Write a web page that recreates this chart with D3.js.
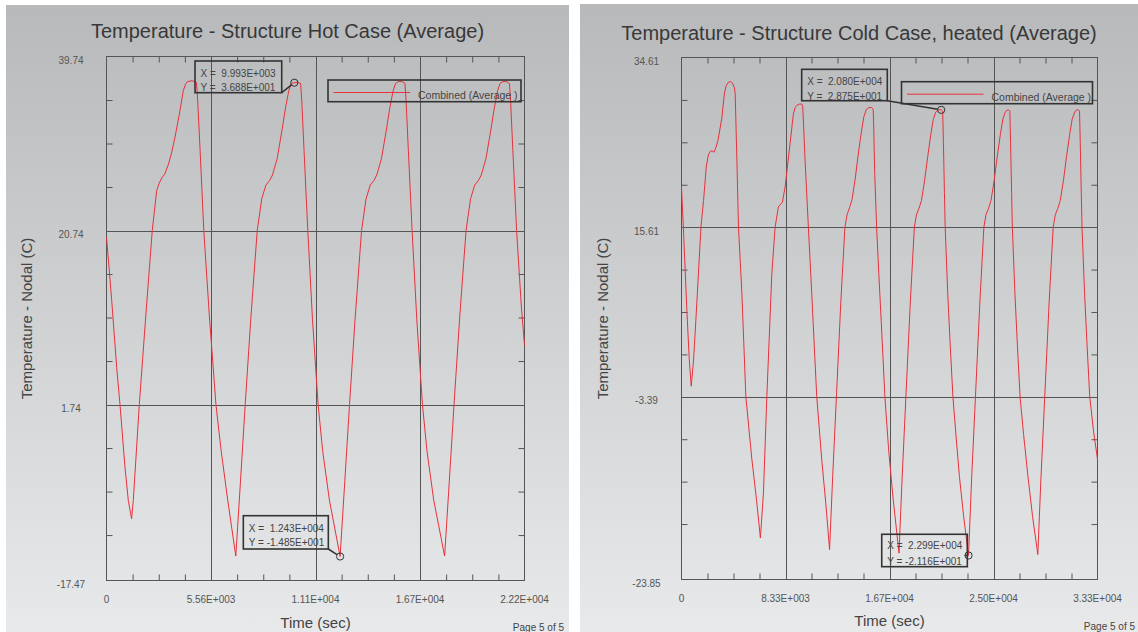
<!DOCTYPE html>
<html>
<head>
<meta charset="utf-8">
<script src="https://cdn.jsdelivr.net/npm/d3@7"></script>
<style>
  html, body { margin: 0; padding: 0; background: #ffffff; }
  svg { display: block; font-family: "Liberation Sans", Arial, sans-serif; }
</style>
</head>
<body>
<svg id="chart" width="1138" height="632"></svg>
<script>
// ---- Hot case: time (s) and average nodal temperature (C) ----
const hotTime = [
  0, 140, 277, 542, 718, 984, 1160, 1335, 1425, 1745, 2085, 2435, 2670, 2800, 2950, 3100,
  3300, 3450, 3642, 3908, 4085, 4200, 4300, 4550, 4790, 4850, 4980, 5177, 5470, 5823, 6100,
  6450, 6880,
  7130, 7380, 7680, 8020, 8260, 8480, 8680, 8830, 9080, 9330, 9530, 9700, 9830, 9993, 10180,
  10330, 10390, 10510, 10710, 10960, 11260, 11500, 11860, 12430,
  12680, 12930, 13230, 13570, 13810, 14030, 14230, 14380, 14630, 14880, 15080, 15250, 15380,
  15530, 15730, 15880, 15940, 16060, 16260, 16510, 16810, 17050, 17410, 17990,
  18240, 18490, 18790, 19130, 19370, 19590, 19790, 19940, 20190, 20440, 20640, 20810, 20940,
  21090, 21290, 21440, 21500, 21620, 21820, 22070, 22240
];
const hotTemp = [
  20.0, 16.6, 13.1, 5.8, 1.74, -5.1, -8.74, -10.74, -8.74, 1.74, 11.3, 20.74, 25.1, 25.9, 26.5, 26.9,
  28.0, 29.1, 30.9, 33.8, 36.0, 36.7, 37.0, 37.1, 36.9, 35.0, 29.5, 20.74, 11.5, 1.74, -3.3,
  -8.7, -14.8,
  -6.6, 1.74, 11.2, 20.74, 24.2, 25.7, 26.2, 26.8, 28.6, 31.6, 34.2, 36.0, 36.8, 36.88, 36.9,
  36.8, 34.9, 29.5, 20.74, 11.0, 1.74, -3.3, -8.7, -14.85,
  -6.6, 1.74, 11.2, 20.74, 24.2, 25.7, 26.2, 26.8, 28.6, 31.6, 34.2, 36.0, 36.8,
  37.0, 37.0, 36.8, 34.9, 29.5, 20.74, 11.0, 1.74, -3.3, -8.7, -14.8,
  -6.6, 1.74, 11.2, 20.74, 24.2, 25.7, 26.2, 26.8, 28.6, 31.6, 34.2, 36.0, 36.8,
  37.0, 37.0, 36.8, 34.9, 29.5, 20.74, 12.5, 8.2
];

// ---- Cold case (heated): time (s) and average nodal temperature (C) ----
const coldTime = [
  0, 170, 440, 623, 780, 967, 1183, 1559, 1767, 1982, 2150, 2300, 2450, 2600, 2750, 2918,
  3238, 3420, 3560, 3765, 3950, 4085, 4245, 4300, 4437, 4565, 4836, 5156, 5636, 6000, 6320,
  6563, 6835, 7235, 7498, 7762, 8082, 8298, 8697, 8961, 9100, 9233, 9450, 9633, 9713, 9780,
  9897, 10163, 10432, 10832, 11232, 11550, 11860,
  12110, 12420, 12760, 13090, 13260, 13460, 13660, 13910, 14160, 14410, 14610, 14810, 15010,
  15240, 15357, 15400, 15480, 15628, 15800, 16000, 16292, 16600, 16950, 17420,
  17670, 17980, 18320, 18650, 18820, 19020, 19220, 19470, 19720, 19970, 20170, 20370, 20570,
  20800, 20920, 20980, 21060, 21120, 21325, 21520, 21740, 21980, 22260, 22600, 22990,
  23240, 23550, 23890, 24220, 24390, 24590, 24790, 25040, 25290, 25540, 25740, 25900, 26050,
  26200, 26300, 26360, 26440, 26500, 26705, 26900, 27120, 27400, 27750, 28120, 28540,
  28790, 29100, 29440, 29770, 29940, 30140, 30340, 30590, 30840, 31090, 31290, 31500, 31650,
  31800, 31880, 31940, 32020, 32080, 32285, 32480, 32700, 33000, 33320
];
const coldTemp = [
  20.1, 14.9, 6.0, 0.74, -2.2, 0.74, 6.0, 15.61, 18.6, 22.35, 23.7, 24.1, 24.15, 24.0, 24.5, 25.3,
  27.9, 30.4, 31.4, 31.85, 31.9, 31.74, 31.2, 30.6, 23.1, 15.6, 8.2, -3.4, -10.4, -14.8, -19.2,
  -14.15, -3.36, 10.4, 15.6, 17.9, 18.4, 20.1, 25.0, 28.3, 29.0, 29.25, 29.4, 29.4, 29.1, 27.0,
  23.1, 15.6, 8.2, -3.36, -10.4, -15.2, -20.5,
  -12.3, -3.0, 7.2, 15.6, 17.0, 17.8, 18.7, 21.0, 23.8, 26.3, 28.0, 28.8, 29.0,
  29.0, 28.8, 26.5, 21.5, 15.6, 10.5, 5.0, -3.4, -9.5, -14.8, -20.9,
  -12.5, -3.2, 7.0, 15.6, 17.0, 17.7, 18.6, 20.8, 23.5, 26.0, 27.7, 28.5, 28.75,
  28.75, 28.6, 25.0, 19.5, 15.6, 8.2, 2.5, -3.4, -7.6, -12.3, -16.8, -21.16,
  -12.5, -3.2, 7.0, 15.6, 17.0, 17.7, 18.6, 20.8, 23.5, 26.0, 27.7, 28.4, 28.7,
  28.75, 28.6, 25.0, 19.5, 15.6, 8.2, 2.5, -3.4, -7.6, -12.3, -16.8, -21.05,
  -12.5, -3.2, 7.0, 15.6, 17.0, 17.7, 18.6, 20.8, 23.5, 26.0, 27.7, 28.5, 28.75,
  28.75, 28.6, 25.0, 19.5, 15.6, 8.2, 2.5, -3.4, -7.2, -10.4
];

// ---- Axis ticks ----
const hotXTicks = [0, 5560, 11120, 16680, 22240];
const hotXLabels = ["0", "5.56E+003", "1.11E+004", "1.67E+004", "2.22E+004"];
const hotYTicks = [39.74, 20.74, 1.74, -17.47];

const coldXTicks = [0, 8330, 16660, 24990, 33320];
const coldXLabels = ["0", "8.33E+003", "1.67E+004", "2.50E+004", "3.33E+004"];
const coldYTicks = [34.61, 15.61, -3.39, -23.85];

// ---- Probed points (time, temperature) ----
const hotProbeX = [9993, 12430];
const hotProbeY = [36.88, -14.85];
const coldProbeX = [20800, 22990];
const coldProbeY = [28.75, -21.16];

const seriesName = "Combined (Average )";
const minorStep = 4.75;

// ---- Layout of the two pages ----
const panels = [
  {
    title: "Temperature - Structure Hot Case (Average)",
    page: { x: 6, y: 5, w: 563, h: 627 },
    titleY: 38,
    plot: { l: 106.5, r: 524.5, t: 56.5, b: 580.5 },
    time: hotTime, temp: hotTemp,
    xTicks: hotXTicks, xLabels: hotXLabels, yTicks: hotYTicks,
    yLabelX: 71, xLabelY: 602.5, yTitleX: 32, xTitleY: 627.5, pageNoX: 564, pageNoY: 630.5,
    legend: { x: 328, y: 80, w: 193, h: 21.7 },
    probeX: hotProbeX, probeY: hotProbeY,
    boxes: [
      { dx: -99.3, dy: -21.7, w: 86.7, h: 31.7, l1: 15.8, l2: 29.8, lead: "br" },
      { dx: -96.8, dy: -40.8, w: 85, h: 33.3, l1: 16.5, l2: 30.5, lead: "br" }
    ]
  },
  {
    title: "Temperature - Structure Cold Case, heated (Average)",
    page: { x: 580, y: 4, w: 558, h: 628 },
    titleY: 40,
    plot: { l: 681.5, r: 1097.5, t: 57.5, b: 579.5 },
    time: coldTime, temp: coldTemp,
    xTicks: coldXTicks, xLabels: coldXLabels, yTicks: coldYTicks,
    yLabelX: 646.5, xLabelY: 602, yTitleX: 608, xTitleY: 625.5, pageNoX: 1135, pageNoY: 629.5,
    legend: { x: 901.5, y: 81.7, w: 191, h: 22 },
    probeX: coldProbeX, probeY: coldProbeY,
    boxes: [
      { dx: -139.5, dy: -40.5, w: 85.6, h: 31.4, l1: 15.9, l2: 30.2, lead: "br" },
      { dx: -86.8, dy: -21.2, w: 85.6, h: 32.4, l1: 15.2, l2: 30.9, lead: "r" }
    ]
  }
];

const svg = d3.select("#chart");
const defs = svg.append("defs");
const grad = defs.append("linearGradient")
  .attr("id", "pageShade").attr("x1", 0).attr("y1", 0).attr("x2", 0).attr("y2", 1);
grad.append("stop").attr("offset", "0%").attr("stop-color", "#b8b9bb");
grad.append("stop").attr("offset", "100%").attr("stop-color", "#e8e9ea");

const lineColor = "#555";
const curveColor = "#e8313a";

// Scientific notation in the style "9.993E+003"
function sci(v) {
  const [m, e] = v.toExponential(3).split("e");
  const ev = Math.abs(+e);
  const es = (+e < 0 ? "-" : "+") + String(ev).padStart(3, "0");
  return (v < 0 ? "" : " ") + m + "E" + es;
}

panels.forEach(p => {
  const g = svg.append("g");
  const { l, r, t, b } = p.plot;

  g.append("rect")
    .attr("x", p.page.x).attr("y", p.page.y)
    .attr("width", p.page.w).attr("height", p.page.h)
    .attr("fill", "url(#pageShade)");

  const xMax = p.xTicks[p.xTicks.length - 1];
  const yMax = p.yTicks[0], yMin = p.yTicks[p.yTicks.length - 1];
  const x = d3.scaleLinear().domain([0, xMax]).range([l, r]);
  const y = d3.scaleLinear().domain([yMin, yMax]).range([b, t]);

  // Title
  g.append("text")
    .attr("x", p.page.x + p.page.w / 2).attr("y", p.titleY)
    .attr("text-anchor", "middle")
    .attr("font-size", 20).attr("fill", "#383838")
    .text(p.title);

  // Grid lines at interior major ticks
  g.append("g").selectAll("line").data(p.xTicks.slice(1, -1)).join("line")
    .attr("x1", d => Math.round(x(d)) + 0.5).attr("x2", d => Math.round(x(d)) + 0.5)
    .attr("y1", t).attr("y2", b)
    .attr("stroke", lineColor).attr("stroke-width", 1);
  g.append("g").selectAll("line").data(p.yTicks.slice(1, -1)).join("line")
    .attr("x1", l).attr("x2", r)
    .attr("y1", d => Math.round(y(d)) + 0.5).attr("y2", d => Math.round(y(d)) + 0.5)
    .attr("stroke", lineColor).attr("stroke-width", 1);

  // Minor ticks: three between each pair of major ticks
  const xMinor = [];
  for (let i = 0; i < p.xTicks.length - 1; i++) {
    const a = p.xTicks[i], c = p.xTicks[i + 1];
    for (let k = 1; k < 4; k++) xMinor.push(a + (c - a) * k / 4);
  }
  const yMinor = [];
  for (let i = 0; i < p.yTicks.length - 1; i++) {
    for (let k = 1; k < 4; k++) yMinor.push(p.yTicks[i] - k * minorStep);
  }

  const tickAxis = (axis, tx, ty) => {
    const a = g.append("g").attr("transform", `translate(${tx},${ty})`).call(axis);
    a.select(".domain").remove();
    a.selectAll("line").attr("stroke", lineColor);
    a.selectAll("text").remove();
  };
  tickAxis(d3.axisTop(x).tickValues(xMinor).tickSize(6).tickFormat(""), 0, b);
  tickAxis(d3.axisBottom(x).tickValues(xMinor).tickSize(6).tickFormat(""), 0, t);
  tickAxis(d3.axisRight(y).tickValues(yMinor).tickSize(6).tickFormat(""), l, 0);
  tickAxis(d3.axisLeft(y).tickValues(yMinor).tickSize(6).tickFormat(""), r, 0);

  // Plot frame
  g.append("rect")
    .attr("x", l).attr("y", t).attr("width", r - l).attr("height", b - t)
    .attr("fill", "none").attr("stroke", lineColor).attr("stroke-width", 1);

  // Tick labels
  g.append("g").selectAll("text").data(p.xTicks).join("text")
    .attr("x", d => x(d)).attr("y", p.xLabelY)
    .attr("text-anchor", "middle").attr("font-size", 10).attr("fill", "#555")
    .text((d, i) => p.xLabels[i]);
  g.append("g").selectAll("text").data(p.yTicks).join("text")
    .attr("x", p.yLabelX).attr("y", d => y(d) + 7.5)
    .attr("text-anchor", "middle").attr("font-size", 10).attr("fill", "#555")
    .text(d => d.toFixed(2));

  // Axis titles
  g.append("text")
    .attr("x", (l + r) / 2).attr("y", p.xTitleY)
    .attr("text-anchor", "middle").attr("font-size", 15).attr("fill", "#444")
    .text("Time (sec)");
  g.append("text")
    .attr("transform", `translate(${p.yTitleX},${(t + b) / 2}) rotate(-90)`)
    .attr("text-anchor", "middle").attr("font-size", 15).attr("fill", "#444")
    .text("Temperature - Nodal (C)");

  // Page number
  g.append("text")
    .attr("x", p.pageNoX).attr("y", p.pageNoY)
    .attr("text-anchor", "end").attr("font-size", 10).attr("fill", "#444")
    .text("Page 5 of 5");

  // Temperature curve
  const line = d3.line()
    .x(i => x(p.time[i]))
    .y(i => y(p.temp[i]));
  g.append("path")
    .attr("d", line(d3.range(p.time.length)))
    .attr("fill", "none").attr("stroke", curveColor)
    .attr("stroke-width", 1).attr("stroke-linejoin", "round");

  // Probe annotations
  p.boxes.forEach((bx, i) => {
    const px = x(p.probeX[i]), py = y(p.probeY[i]);
    const bl = px + bx.dx, bt = py + bx.dy;
    const br = bl + bx.w, bb = bt + bx.h;
    const rad = 3.6;
    let sx = br, sy = bb;
    if (bx.lead === "r") { sx = br; sy = py; }
    const ang = Math.atan2(py - sy, px - sx);
    g.append("line")
      .attr("x1", sx).attr("y1", sy)
      .attr("x2", px - rad * Math.cos(ang)).attr("y2", py - rad * Math.sin(ang))
      .attr("stroke", "#333").attr("stroke-width", 1.5);
    g.append("rect")
      .attr("x", bl).attr("y", bt).attr("width", bx.w).attr("height", bx.h)
      .attr("fill", "none").attr("stroke", "#333").attr("stroke-width", 1.6);
    g.append("circle")
      .attr("cx", px).attr("cy", py).attr("r", rad)
      .attr("fill", "none").attr("stroke", "#333").attr("stroke-width", 1);
    g.append("text")
      .attr("x", bl + 5.5).attr("y", bt + bx.l1)
      .attr("font-size", 10).attr("fill", "#444")
      .style("white-space", "pre")
      .text("X = " + sci(p.probeX[i]));
    g.append("text")
      .attr("x", bl + 5.5).attr("y", bt + bx.l2)
      .attr("font-size", 10).attr("fill", "#444")
      .style("white-space", "pre")
      .text("Y = " + sci(p.probeY[i]));
  });

  // Legend
  const lg = p.legend;
  g.append("rect")
    .attr("x", lg.x).attr("y", lg.y).attr("width", lg.w).attr("height", lg.h)
    .attr("fill", "none").attr("stroke", "#333").attr("stroke-width", 1.6);
  g.append("line")
    .attr("x1", lg.x + 5.5).attr("x2", lg.x + 82)
    .attr("y1", lg.y + 12.5).attr("y2", lg.y + 12.5)
    .attr("stroke", curveColor).attr("stroke-width", 1);
  g.append("text")
    .attr("x", lg.x + 90).attr("y", lg.y + 19)
    .attr("font-size", 10.5).attr("fill", "#444")
    .text(seriesName);
});
</script>
</body>
</html>
